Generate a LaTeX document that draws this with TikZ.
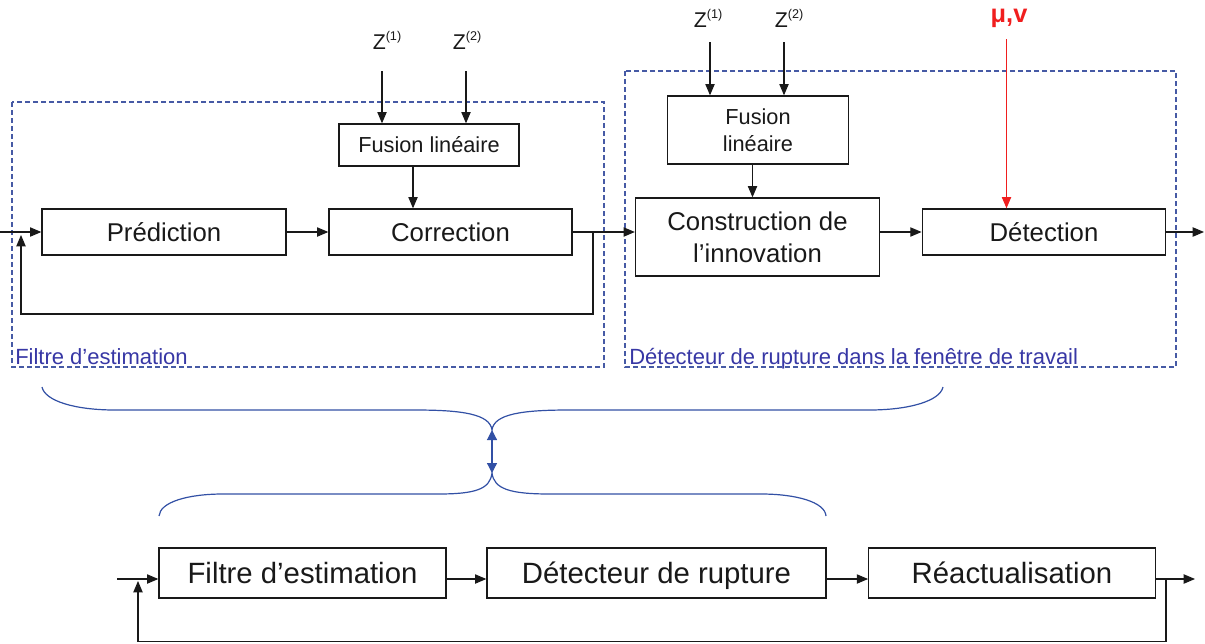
\documentclass[tikz,border=0pt]{standalone}
\usepackage{fontspec}
\setmainfont{Liberation Sans}
\usetikzlibrary{arrows.meta}
\definecolor{dashblue}{RGB}{70,90,165}
\definecolor{lblblue}{RGB}{55,55,165}
\definecolor{braceblue}{RGB}{50,80,165}
\definecolor{redarr}{RGB}{240,30,30}
\definecolor{ink}{RGB}{25,25,25}
\newcommand{\supx}[1]{\raisebox{6.4pt}{\fontsize{9.5}{10}\selectfont(#1)}}
\begin{document}
\begin{tikzpicture}[x=0.75pt,y=-0.75pt,
  box/.style={draw=ink, line width=1pt, inner sep=0pt, text=ink, align=center},
  mainf/.style={font=\fontsize{19.3}{24}\selectfont},
  mainone/.style={mainf, text height=13.8pt, text depth=0pt},
  fusone/.style={font=\fontsize{16.3}{20}\selectfont, text height=11.7pt, text depth=0pt},
  fusf/.style={font=\fontsize{16.3}{20}\selectfont},
  botone/.style={font=\fontsize{22}{26}\selectfont, text height=15.75pt, text depth=0pt},
  arr/.style={draw=ink, line width=0.8pt, -{Triangle[length=8.5pt,width=7pt]}},
  redline/.style={draw=redarr, line width=0.8pt, -{Triangle[length=8.5pt,width=7pt]}},
  dashbox/.style={draw=dashblue, line width=0.8pt, dash pattern=on 3.5pt off 2.5pt},
  lbl/.style={text=lblblue, font=\fontsize{16.5}{19}\selectfont, anchor=base west, inner sep=0pt},
  zl/.style={text=ink, font=\fontsize{16}{18}\selectfont, anchor=base, inner sep=0pt},
  bracel/.style={draw=braceblue, line width=0.9pt},
  dbl/.style={draw=braceblue, line width=0.9pt, {Triangle[length=7.5pt,width=7.5pt]}-{Triangle[length=7.5pt,width=7.5pt]}}
]
\useasboundingbox (0,0) rectangle (1205,643);

% dashed containers
\draw[dashbox] (12,102) rectangle (604,367);
\draw[dashbox] (625,71) rectangle (1176,367);
\node[lbl] (lab1) at (15,364) {Filtre d’estimation};
\node[lbl] (lab2) at (629,364) {Détecteur de rupture dans la fenêtre de travail};

% top row boxes
\node[box, mainone, minimum width=244*0.75pt, minimum height=46*0.75pt] (pred) at (164,232) {Prédiction};
\node[box, mainone, minimum width=243*0.75pt, minimum height=46*0.75pt] (corr) at (450.5,232) {Correction};
\node[box, fusone, minimum width=180*0.75pt, minimum height=42*0.75pt] (fus1) at (429,145) {Fusion linéaire};
\node[box, mainf, minimum width=244*0.75pt, minimum height=78*0.75pt] (cons) at (757.5,237) {Construction de\\l’innovation};
\node[box, fusf, minimum width=180.5*0.75pt, minimum height=68*0.75pt] (fus2) at (758,130) {Fusion\\linéaire};
\node[box, mainone, minimum width=243.5*0.75pt, minimum height=46*0.75pt] (det) at (1044,232) {Détection};

% labels Z and mu
\node[zl] (za) at (387,49) {Z\supx{1}};
\node[zl] (zb) at (467,49) {Z\supx{2}};
\node[zl] (zc) at (708,27) {Z\supx{1}};
\node[zl] (zd) at (789,27) {Z\supx{2}};
\node[text=redarr, font=\bfseries\fontsize{19}{22}\selectfont, anchor=base, inner sep=0pt] (mu) at (1009,22) {μ,v};

% top arrows
\coordinate (za1) at (382,71);
\coordinate (zb1) at (466,71);
\coordinate (zc1) at (710,42);
\coordinate (zd1) at (784,42);
\coordinate (mu1) at (1006.5,39);
\draw[arr] (za1) -- (za1 |- fus1.north);
\draw[arr] (zb1) -- (zb1 |- fus1.north);
\draw[arr] (zc1) -- (zc1 |- fus2.north);
\draw[arr] (zd1) -- (zd1 |- fus2.north);
\draw[redline] (mu1) -- (mu1 |- det.north);
\coordinate (f1x) at (413,0);
\coordinate (f2x) at (752.5,0);
\draw[arr] (fus1.south -| f1x) -- (corr.north -| f1x);
\draw[arr] (fus2.south -| f2x) -- (cons.north -| f2x);

% main flow top
\coordinate (tin) at (0,232);
\coordinate (tfb1) at (593,314);
\coordinate (tfb2) at (21,235);
\coordinate (tout) at (1204,232);
\draw[arr] (tin) -- (pred.west);
\draw[arr] (pred.east) -- (corr.west);
\draw[arr] (corr.east) -- (cons.west |- corr.east);
\draw[arr] (corr.east) -| (tfb1) -| (tfb2);
\draw[arr] (cons.east |- det.west) -- (det.west);
\draw[arr] (det.east) -- (tout);

% braces
\coordinate (cuspT) at (492,430);
\coordinate (cuspB) at (492,473);
\draw[bracel] (42,387) .. controls (45,401) and (75,410) .. (115,410) -- (415,410)
  .. controls (462,410) and (490,414) .. (cuspT)
  .. controls (494,414) and (522,410) .. (569,410) -- (869,410)
  .. controls (909,410) and (940,401) .. (943,387);
\draw[bracel] (159,516) .. controls (160,502) and (188,494) .. (223,494) -- (438,494)
  .. controls (476,494) and (490,489) .. (cuspB)
  .. controls (494,489) and (510,494) .. (550,494) -- (761,494)
  .. controls (796,494) and (825,502) .. (826,516);
\draw[dbl] (cuspT) -- (cuspB);

% bottom row
\node[box, botone, minimum width=287*0.75pt, minimum height=50*0.75pt] (fe) at (302.5,573) {Filtre d’estimation};
\node[box, botone, minimum width=339*0.75pt, minimum height=50*0.75pt] (dr) at (656.5,573) {Détecteur de rupture};
\node[box, botone, minimum width=286.5*0.75pt, minimum height=50*0.75pt] (reac) at (1012,573) {Réactualisation};
\coordinate (bin) at (117,579);
\coordinate (bout) at (1195,579);
\coordinate (bfb1) at (1166,641.5);
\coordinate (bfb2) at (138,581);
\draw[arr] (bin) -- (fe.west |- bin);
\draw[arr] (fe.east |- bin) -- (dr.west |- bin);
\draw[arr] (dr.east |- bin) -- (reac.west |- bin);
\draw[arr] (reac.east |- bin) -- (bout);
\draw[arr] (reac.east |- bin) -| (bfb1) -| (bfb2);
\end{tikzpicture}
\end{document}
